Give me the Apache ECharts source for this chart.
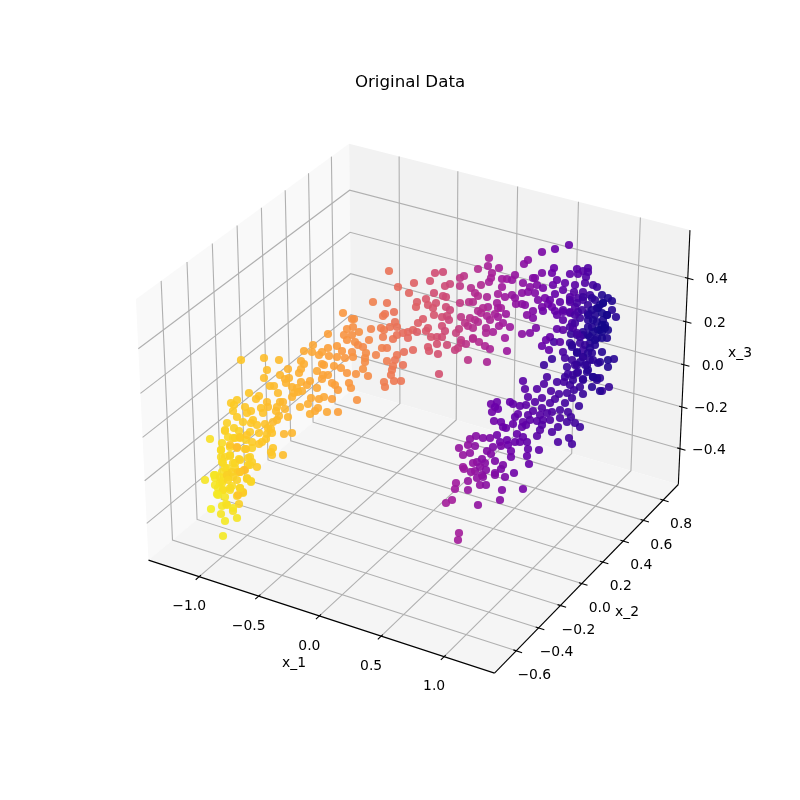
<!DOCTYPE html>
<html><head><meta charset="utf-8"><style>html,body{margin:0;padding:0;background:#fff}#c{width:800px;height:800px}</style>
<script src="https://cdn.jsdelivr.net/npm/echarts@6/dist/echarts.min.js"></script></head><body><div id="c"></div>
<script>
// Each sample: [image x, image y, position along the curve 0-100]
const yellowArm=[[241,360,90],[264,358,88],[279,360,87],[267,370,88],[264,378,88],[288,369,85],[280,375,86],[285,379,85],[289,378,85],[270,386,88],[274,386,87],[286,383,85],[278,393,87],[249,393,90],[259,396,89],[256,399,89],[267,402,88],[268,407,88],[280,402,87],[283,402,86],[277,407,87],[276,411,87],[285,409,86],[288,417,86],[279,416,87],[277,420,87],[273,422,87],[237,400,91],[231,403,91],[234,405,91],[233,411,91],[245,407,90],[251,411,90],[247,413,90],[237,417,91],[227,423,92],[243,422,91],[253,420,90],[251,423,90],[257,425,90],[261,408,89],[263,413,89],[265,424,89],[268,428,89],[271,429,89],[225,430,92],[234,428,92],[239,431,92],[250,432,91],[259,433,90],[267,434,90],[272,433,89],[266,439,90],[262,442,90],[259,444,90],[284,434,86],[292,433,86],[210,439,95],[222,443,94],[228,437,93],[233,438,93],[240,438,92],[246,440,92],[221,450,94],[230,447,93],[237,448,90],[245,449,92],[252,448,92],[273,448,90],[271,452,90],[272,455,90],[283,455,88],[221,457,94],[230,456,93],[239,459,93],[250,457,92],[252,462,92],[223,463,94],[233,463,93],[248,465,92],[257,467,91],[227,468,94],[240,472,90],[245,470,90],[214,475,96],[205,480,96],[215,478,96],[228,477,94],[223,480,95],[247,479,93],[251,481,93],[220,483,95],[232,486,94],[240,488,94],[217,494,97],[223,490,95],[225,497,96],[237,496,93],[243,493,93],[239,504,92],[226,504,96],[222,506,96],[211,509,98],[233,511,95],[221,514,96],[237,518,96],[225,521,97],[223,536,97],[228,473,94],[235,468,93],[222,472,95],[218,488,96],[230,490,95]];
const yellowCore=[[225,431,92],[235,438,92],[240,437,91],[247,435,90],[230,445,90],[237,447,88],[246,449,90],[252,442,91],[221,450,94],[225,457,93],[230,455,93],[222,462,94],[235,463,93],[240,460,92],[248,458,92],[250,465,92],[225,468,94],[232,472,92],[238,472,91],[244,470,88],[240,472,90],[215,475,96],[220,477,95],[227,475,92],[233,477,92],[222,483,95],[228,480,93],[237,480,92],[247,478,92],[251,482,93],[215,485,96],[223,490,95],[230,488,94],[243,492,91],[238,495,90],[218,495,97],[227,505,95],[233,508,96],[240,488,93]];
const orangeArm=[[389,271,68],[343,313,78],[373,302,72],[387,303,69],[394,312,68],[398,287,66],[414,283,63],[409,293,64],[385,314,69],[383,316,70],[354,319,76],[352,319,76],[347,329,77],[353,327,76],[359,332,76],[371,329,73],[381,328,71],[384,330,71],[390,327,69],[395,322,68],[397,327,68],[408,332,65],[413,330,64],[344,335,77],[352,335,76],[347,340,77],[328,334,80],[369,340,74],[383,337,71],[393,339,69],[397,335,68],[403,333,66],[408,338,65],[355,342,76],[358,345,75],[363,347,74],[313,345,82],[304,351,83],[312,352,82],[322,352,81],[328,348,80],[337,346,79],[342,351,78],[352,352,76],[366,353,75],[382,348,72],[387,348,71],[404,352,67],[413,350,65],[319,355,81],[329,356,80],[337,357,79],[345,358,78],[353,357,77],[365,358,75],[376,355,73],[397,355,69],[387,361,71],[395,360,69],[301,361,84],[304,364,84],[322,364,81],[324,365,81],[334,366,80],[341,368,79],[365,362,75],[393,366,70],[403,365,68],[301,369,84],[317,371,82],[363,369,76],[347,373,78],[356,374,77],[392,370,70],[299,373,84],[323,375,81],[328,375,81],[391,375,70],[368,376,75],[301,382,84],[310,381,83],[322,379,81],[332,383,80],[394,381,70],[401,381,69],[384,382,71],[385,387,71],[349,383,78],[351,388,78],[292,387,85],[307,385,83],[302,391,84],[317,388,82],[335,385,80],[338,390,79],[294,393,85],[292,397,85],[311,398,83],[319,399,82],[324,397,82],[332,399,80],[357,400,77],[308,404,84],[300,407,85],[318,408,83],[315,411,83],[310,414,84],[327,412,82],[338,412,80],[297,388,85],[298,392,85]];
const magentaArm=[[489,258,42],[488,266,42],[499,268,41],[478,269,46],[492,273,42],[435,273,57],[443,272,56],[464,276,49],[460,278,50],[491,278,42],[515,275,38],[507,279,39],[502,279,40],[512,280,38],[489,282,42],[430,281,58],[445,286,56],[450,284,55],[460,286,50],[471,288,47],[481,285,45],[502,287,40],[434,293,57],[475,293,46],[478,296,46],[446,297,56],[443,296,56],[487,297,43],[498,294,41],[512,295,38],[505,297,39],[515,298,37],[426,299,60],[417,302,62],[436,303,58],[460,303,51],[469,302,48],[473,302,47],[497,303,41],[498,308,41],[488,307,43],[501,308,41],[516,304,37],[428,305,60],[416,307,63],[433,308,59],[446,307,56],[450,310,55],[483,308,45],[478,311,46],[481,313,45],[506,314,39],[487,316,44],[495,314,42],[498,317,41],[434,315,59],[442,317,57],[447,316,56],[449,320,55],[423,319,61],[461,317,50],[470,318,48],[475,320,47],[490,320,43],[418,323,62],[465,323,49],[468,326,48],[473,328,47],[478,322,46],[503,323,40],[499,326,41],[510,327,39],[486,328,44],[493,332,42],[486,333,44],[428,328,60],[426,331,60],[442,326,57],[445,331,56],[459,329,52],[456,333,53],[505,338,40],[473,338,47],[431,337,59],[437,337,58],[417,332,62],[442,337,57],[461,340,51],[461,343,51],[466,344,49],[473,339,47],[479,342,46],[485,346,44],[490,349,43],[507,351,39],[428,347,60],[437,344,58],[447,345,56],[429,351,60],[438,354,58],[458,348,52],[455,350,53],[468,360,49],[487,362,43],[439,374,58]];
const darkArm=[[569,245,28],[555,249,30],[542,252,33],[528,260,36],[524,264,36],[554,268,30],[552,273,30],[542,273,33],[577,269,24],[588,268,20],[583,271,22],[570,274,26],[578,274,24],[588,272,20],[586,277,20],[535,278,34],[533,278,34],[557,280,29],[565,283,27],[575,285,24],[585,283,20],[593,285,16],[597,287,14],[523,283,36],[537,285,34],[530,287,35],[543,288,32],[553,285,30],[563,290,26],[574,292,22],[528,292,35],[522,293,36],[535,293,34],[555,294,28],[583,292,18],[570,297,23],[578,298,20],[590,295,14],[602,295,6],[608,298,5],[612,301,6],[538,300,33],[545,298,32],[550,300,30],[560,302,26],[570,302,22],[583,300,16],[595,300,10],[603,303,4],[525,305,35],[548,304,31],[522,304,36],[542,307,32],[552,307,30],[575,307,20],[588,305,12],[598,308,6],[612,310,8],[533,311,34],[527,315,35],[533,318,34],[543,311,31],[555,311,28],[563,312,25],[570,312,22],[578,312,18],[588,313,10],[595,315,6],[607,315,4],[616,317,8],[557,315,27],[563,320,25],[572,323,20],[588,320,8],[597,322,5],[603,320,4],[605,325,3],[536,328,33],[530,333,34],[522,334,36],[557,329,27],[563,330,25],[573,328,20],[592,327,6],[600,330,3],[608,330,4],[602,332,3],[571,334,12],[583,335,10],[577,335,14],[588,335,6],[607,338,6],[597,338,5],[550,337,28],[546,340,29],[554,342,18],[560,342,24],[542,346,29],[549,350,28],[570,343,12],[572,347,10],[580,343,14],[590,343,8],[583,350,14],[595,345,7],[577,353,6],[563,352,18],[602,352,7],[592,353,9],[565,358,17],[552,359,12],[544,365,14],[572,360,14],[583,357,12],[590,360,10],[598,363,10],[608,360,5],[614,359,8],[608,367,7],[577,365,12],[587,365,10],[602,391,12],[609,387,12],[597,380,10],[600,378,10]];
const darkCore=[[600,305,4],[603,303,3],[597,308,4],[592,310,6],[607,315,3],[602,313,3],[593,320,5],[588,315,7],[602,325,2],[598,330,2],[593,332,4],[605,328,2],[590,337,5],[595,340,5],[602,338,4],[583,332,8],[580,337,14],[585,345,12],[572,345,9],[577,352,8],[590,348,7],[583,357,10],[588,353,8],[593,360,9],[580,362,10],[575,365,12],[567,367,14],[588,370,7],[593,377,6],[597,378,7],[583,380,10],[573,375,12],[565,377,14],[570,385,14],[600,362,8],[585,365,10],[578,372,10],[577,333,16],[570,327,18],[575,323,16],[588,327,7],[582,310,14],[577,303,18],[592,298,10],[583,297,14],[570,300,20],[563,310,24],[570,313,22],[580,318,14],[575,315,18]];
const lowerArm=[[523,381,24],[525,389,24],[537,389,21],[544,384,20],[551,391,19],[547,377,18],[557,382,17],[564,382,16],[568,374,14],[577,373,12],[587,372,8],[593,377,6],[573,380,12],[583,379,10],[592,387,8],[600,391,8],[583,394,12],[528,397,23],[542,398,21],[559,394,17],[567,393,16],[574,390,14],[580,387,12],[535,402,22],[555,399,18],[550,403,19],[572,398,15],[565,403,16],[579,406,13],[491,404,31],[497,402,30],[495,407,30],[498,409,30],[492,412,31],[510,402,28],[513,404,27],[520,406,26],[526,405,25],[542,408,21],[533,411,23],[518,414,27],[515,417,27],[528,415,24],[560,410,17],[552,412,19],[568,412,16],[571,417,15],[540,415,22],[547,413,20],[494,421,31],[501,422,30],[503,427,30],[506,428,29],[513,424,28],[523,422,26],[530,420,24],[537,421,23],[543,420,21],[550,420,20],[560,418,18],[567,422,16],[575,423,15],[580,427,14],[558,427,18],[552,432,19],[540,430,22],[537,436,23],[522,427,26],[526,425,25],[542,425,21],[497,435,31],[476,436,35],[470,439,36],[483,438,34],[490,438,33],[507,440,30],[500,442,31],[517,434,28],[523,437,27],[527,442,26],[515,442,29],[520,442,28],[508,445,30],[558,442,19],[569,438,17],[572,444,17],[468,445,37],[475,446,36],[459,448,38],[493,447,33],[501,446,32],[487,451,34],[491,454,34],[511,451,31],[528,449,27],[539,450,25],[463,455,38],[470,453,37],[511,457,31],[527,456,28],[495,461,33],[477,462,36],[482,459,35],[473,463,37],[463,467,39],[464,469,39],[475,471,37],[471,472,38],[485,463,35],[480,467,36],[486,470,35],[503,465,33],[501,469,33],[529,464,29],[495,473,34],[514,473,31],[482,475,36],[505,477,33],[483,477,36],[468,481,38],[456,483,40],[480,485,37],[486,485,36],[477,478,37],[455,489,40],[468,490,38],[502,490,34],[523,489,32],[452,500,41],[446,503,41],[478,505,37],[500,500,35],[459,533,41],[458,540,41],[495,475,34]];

const xTicks=[-1,-0.5,0,0.5,1];
const yTicks=[-0.6,-0.4,-0.2,0,0.2,0.4,0.6,0.8];
const zTicks=[-0.4,-0.2,0,0.2,0.4];
const xLim=[-1.3766,1.3372], yLim=[-0.7563,0.9224], zLim=[-0.5506,0.594];

// matplotlib mplot3d camera: elev 30, azim -60, dist 10, box (4,4,3)
const BOX=[1.142857,1.142857,0.857143];
const U=[0.866025,0.5,0], V=[-0.25,0.433013,0.866025], W=[0.433013,-0.75,0.5];
const dot=(a,b)=>a[0]*b[0]+a[1]*b[1]+a[2]*b[2];
function project(x,y,z){
  const lims=[xLim,yLim,zLim], p=[x,y,z].map((v,i)=>((v-lims[i][0])/(lims[i][1]-lims[i][0])-0.5)*BOX[i]);
  const d=10-dot(W,p);
  return [418.3+3329.7*dot(U,p)/d, 395.7-3329.7*dot(V,p)/d];
}
const pad=l=>(l[1]-l[0])/48, delta=l=>(l[1]-l[0])/12;
const x0=xLim[0]-pad(xLim),x1=xLim[1]+pad(xLim),y0=yLim[0]-pad(yLim),y1=yLim[1]+pad(yLim),z0=zLim[0]-pad(zLim),z1=zLim[1]+pad(zLim);
const panes=[
 {c:'#f9f9f9',p:[[x0,y0,z0],[x0,y1,z0],[x0,y1,z1],[x0,y0,z1]]},
 {c:'#f2f2f2',p:[[x0,y1,z0],[x1,y1,z0],[x1,y1,z1],[x0,y1,z1]]},
 {c:'#f5f5f5',p:[[x0,y0,z0],[x1,y0,z0],[x1,y1,z0],[x0,y1,z0]]}
].map(o=>({c:o.c,p:o.p.map(q=>project(...q))}));
const gridLines=[];
xTicks.forEach(v=>gridLines.push([[v,y0,z0],[v,y1,z0],[v,y1,z1]]));
yTicks.forEach(v=>gridLines.push([[x1,v,z0],[x0,v,z0],[x0,v,z1]]));
zTicks.forEach(v=>gridLines.push([[x0,y0,v],[x0,y1,v],[x1,y1,v]]));
const inkLines=[[[x0,y0,z0],[x1,y0,z0]],[[x1,y0,z0],[x1,y1,z0]],[[x1,y1,z0],[x1,y1,z1]]];
const dx=delta(xLim),dy=delta(yLim);
xTicks.forEach(v=>inkLines.push([[v,y0-0.2*dy,z0],[v,y0+0.1*dy,z0]]));
yTicks.forEach(v=>inkLines.push([[x1+0.2*dx,v,z0],[x1-0.1*dx,v,z0]]));
zTicks.forEach(v=>inkLines.push([[x1+0.2*dx,y1,v],[x1-0.1*dx,y1,v]]));
const fmt=v=>(v<0?'\u2212':'')+Math.abs(v).toFixed(1);
const texts=[];
xTicks.forEach(v=>{const p=project(v,y0,z0);texts.push([p[0]-10,p[1]+30,fmt(v)]);});
yTicks.forEach(v=>{const p=project(x1,v,z0);texts.push([p[0]+18,p[1]+24.7,fmt(v)]);});
zTicks.forEach(v=>{const p=project(x1,y1,v);texts.push([p[0]+29,p[1]+1.5,fmt(v)]);});
texts.push([294,663,'x_1'],[627,612,'x_2'],[740,353,'x_3']);

const poly=(list,style,z)=>({type:'custom',coordinateSystem:'cartesian2d',clip:false,silent:true,z,
  data:list.map((_,i)=>[i]),encode:{x:0,y:0},
  renderItem:(par,api)=>{const l=list[par.dataIndex];
    return {type:'polyline',shape:{points:l.map(q=>api.coord(project(...q)))},style:{fill:null,...style}};}});
const option={animation:false,backgroundColor:'#fff',
 title:{text:'Original Data',left:410,top:74,padding:0,textAlign:'center',textStyle:{fontFamily:'DejaVu Sans',fontSize:16.67,fontWeight:'normal',color:'#000'}},
 grid:{left:0,top:0,width:800,height:800},
 xAxis:{type:'value',min:0,max:800,show:false},
 yAxis:{type:'value',min:0,max:800,inverse:true,show:false},
 visualMap:{show:false,type:'continuous',seriesIndex:4,dimension:2,min:0,max:100,
  inRange:{color:['#0d0887','#2f0596','#5002a2','#6a00a8','#a01a9c','#bd3786','#d8576b','#ed7953','#fb9f3a','#fdc527','#f0f921']}},
 series:[
  {type:'custom',coordinateSystem:'cartesian2d',clip:false,silent:true,z:1,data:panes.map((_,i)=>[i]),encode:{x:0,y:0},
   renderItem:(par,api)=>{const o=panes[par.dataIndex];return {type:'polygon',shape:{points:o.p.map(q=>api.coord(q))},style:{fill:o.c}};}},
  poly(gridLines,{stroke:'#b0b0b0',lineWidth:1.1},2),
  poly(inkLines,{stroke:'#000',lineWidth:1.1},3),
  {type:'custom',coordinateSystem:'cartesian2d',clip:false,silent:true,z:6,data:texts.map((_,i)=>[i]),encode:{x:0,y:0},
   renderItem:(par,api)=>{const t=texts[par.dataIndex],c=api.coord([t[0],t[1]]);
    return {type:'text',x:c[0],y:c[1],style:{text:t[2],fill:'#000',font:'13.9px "DejaVu Sans"',textAlign:'center',textVerticalAlign:'middle'}};}},
  {type:'scatter',z:5,symbol:'circle',symbolSize:8.2,itemStyle:{opacity:0.9},silent:true,clip:false,
   data:[].concat(yellowArm,yellowCore,orangeArm,magentaArm,darkArm,darkCore,lowerArm)}
 ]};
echarts.init(document.getElementById('c'),null,{renderer:'canvas'}).setOption(option);
</script></body></html>
